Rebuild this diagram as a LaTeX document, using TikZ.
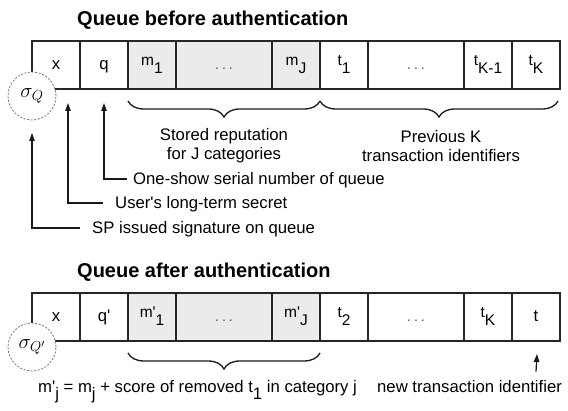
\documentclass[tikz,border=0pt]{standalone}
\usepackage{fontspec}
\setmainfont{Liberation Sans}
\usetikzlibrary{arrows.meta,decorations.pathreplacing}
\newcommand\lsub[2]{{\fontsize{15.5}{18}\selectfont\raisebox{4pt}{#1}\raisebox{-4pt}{#2}}}
\newcommand\dsub[2]{#1\raisebox{-7pt}{#2}}
\newcommand\pq{\textquotesingle}
\newcommand\cdts{{\fontsize{14}{16}\selectfont\color{black!70}.\hspace{3pt}.\hspace{3pt}.}}
\begin{document}
\begin{tikzpicture}[x=1pt,y=-1pt,
  cell/.style={draw=black!85, line width=1.2pt, minimum height=48pt, minimum width=48pt,
    inner sep=0pt, outer sep=0pt, text height=12pt, text depth=2pt,
    font=\fontsize{16.7}{19}\selectfont},
  widecell/.style={cell, minimum width=96pt},
  shadecell/.style={fill=black!8},
  sig/.style={circle, draw=black!55, dashed, dash pattern=on 2pt off 1.6pt, line width=0.8pt,
    fill=white, minimum size=48pt, inner sep=0pt, font=\fontsize{21}{25}\selectfont},
  title/.style={anchor=base west, inner sep=0pt, font=\fontsize{20}{24}\selectfont\bfseries},
  lbl/.style={anchor=west, inner sep=0pt, text height=12pt, text depth=0pt,
    font=\fontsize{16.7}{19}\selectfont},
  para/.style={align=center, inner sep=0pt, font=\fontsize{16.7}{19}\selectfont},
  arr/.style={line width=1.2pt, draw=black!90, -{Triangle[length=8pt,width=5.5pt]}},
  bracestyle/.style={decorate, line width=1.3pt, draw=black!90,
    decoration={brace, mirror, amplitude=16pt}}
]
\useasboundingbox (0,0) rectangle (568,411);
\fill[white] (0,0) rectangle (568,411);

% ---------- top queue ----------
\node[title] (t1) at (77,26) {Queue before authentication};
\node[cell] (ax) at (56,65) {x};
\node[cell] (aq) at (104,65) {q};
\node[cell,shadecell] (am1) at (152,65) {\lsub{m}{1}};
\node[widecell,shadecell] (amd) at (224,65) {\cdts};
\node[cell,shadecell] (amJ) at (296,65) {\lsub{m}{J}};
\node[cell] (at1) at (344,65) {\lsub{t}{1}};
\node[widecell] (atd) at (416,65) {\cdts};
\node[cell] (atK1) at (488,65) {\lsub{t}{K-1}};
\node[cell] (atK) at (536,65) {\lsub{t}{K}};
\node[sig] (sa) at (32,96) {$\sigma_Q$};

\draw[bracestyle] ([yshift=-12pt]am1.south west) -- ([yshift=-12pt]amJ.south east);
\draw[bracestyle] ([yshift=-12pt]at1.south west) -- ([xshift=-2pt,yshift=-12pt]atK.south east);

\node[para] (rep) at (224,146) {Stored reputation\\for J categories};
\node[para] (prev) at (441,146) {Previous K\\transaction identifiers};

\node[lbl] (lsn) at (133,179) {One-show serial number of queue};
\node[lbl] (lus) at (115,203) {User\pq s long-term secret};
\node[lbl] (lsp) at (92,228) {SP issued signature on queue};

\coordinate (tipsn) at (104,103);
\coordinate (tipus) at (68,103);
\coordinate (tipsp) at (32,133);
\draw[arr] ([xshift=-6pt]lsn.west) -| (tipsn);
\draw[arr] ([xshift=-12pt]lus.west) -| (tipus);
\draw[arr] ([xshift=-12pt]lsp.west) -| (tipsp);

% ---------- bottom queue ----------
\node[title] (t2) at (77,278) {Queue after authentication};
\node[cell] (bx) at (56,317) {x};
\node[cell] (bq) at (104,317) {q\pq};
\node[cell,shadecell] (bm1) at (152,317) {\lsub{m\pq}{1}};
\node[widecell,shadecell] (bmd) at (224,317) {\cdts};
\node[cell,shadecell] (bmJ) at (296,317) {\lsub{m\pq}{J}};
\node[cell] (bt2) at (344,317) {\lsub{t}{2}};
\node[widecell] (btd) at (416,317) {\cdts};
\node[cell] (btK) at (488,317) {\lsub{t}{K}};
\node[cell] (bt) at (536,317) {t};
\node[sig] (sb) at (32,347) {$\sigma_{Q'}$};

\draw[bracestyle] ([yshift=-12pt]bm1.south west) -- ([yshift=-12pt]bmJ.south east);

\node[anchor=base west, inner sep=0pt, font=\fontsize{16.7}{19}\selectfont] (formula) at (38,393)
  {\dsub{m\pq}{j} = \dsub{m}{j} + score of removed \dsub{t}{1} in category j};
\node[anchor=base west, inner sep=0pt, font=\fontsize{16.7}{19}\selectfont] (newt) at (377,393)
  {new transaction identifier};
\coordinate (tipnt) at (537,354);
\draw[arr] ([yshift=9pt]newt.north -| bt.south) -- (tipnt);
\end{tikzpicture}
\end{document}
